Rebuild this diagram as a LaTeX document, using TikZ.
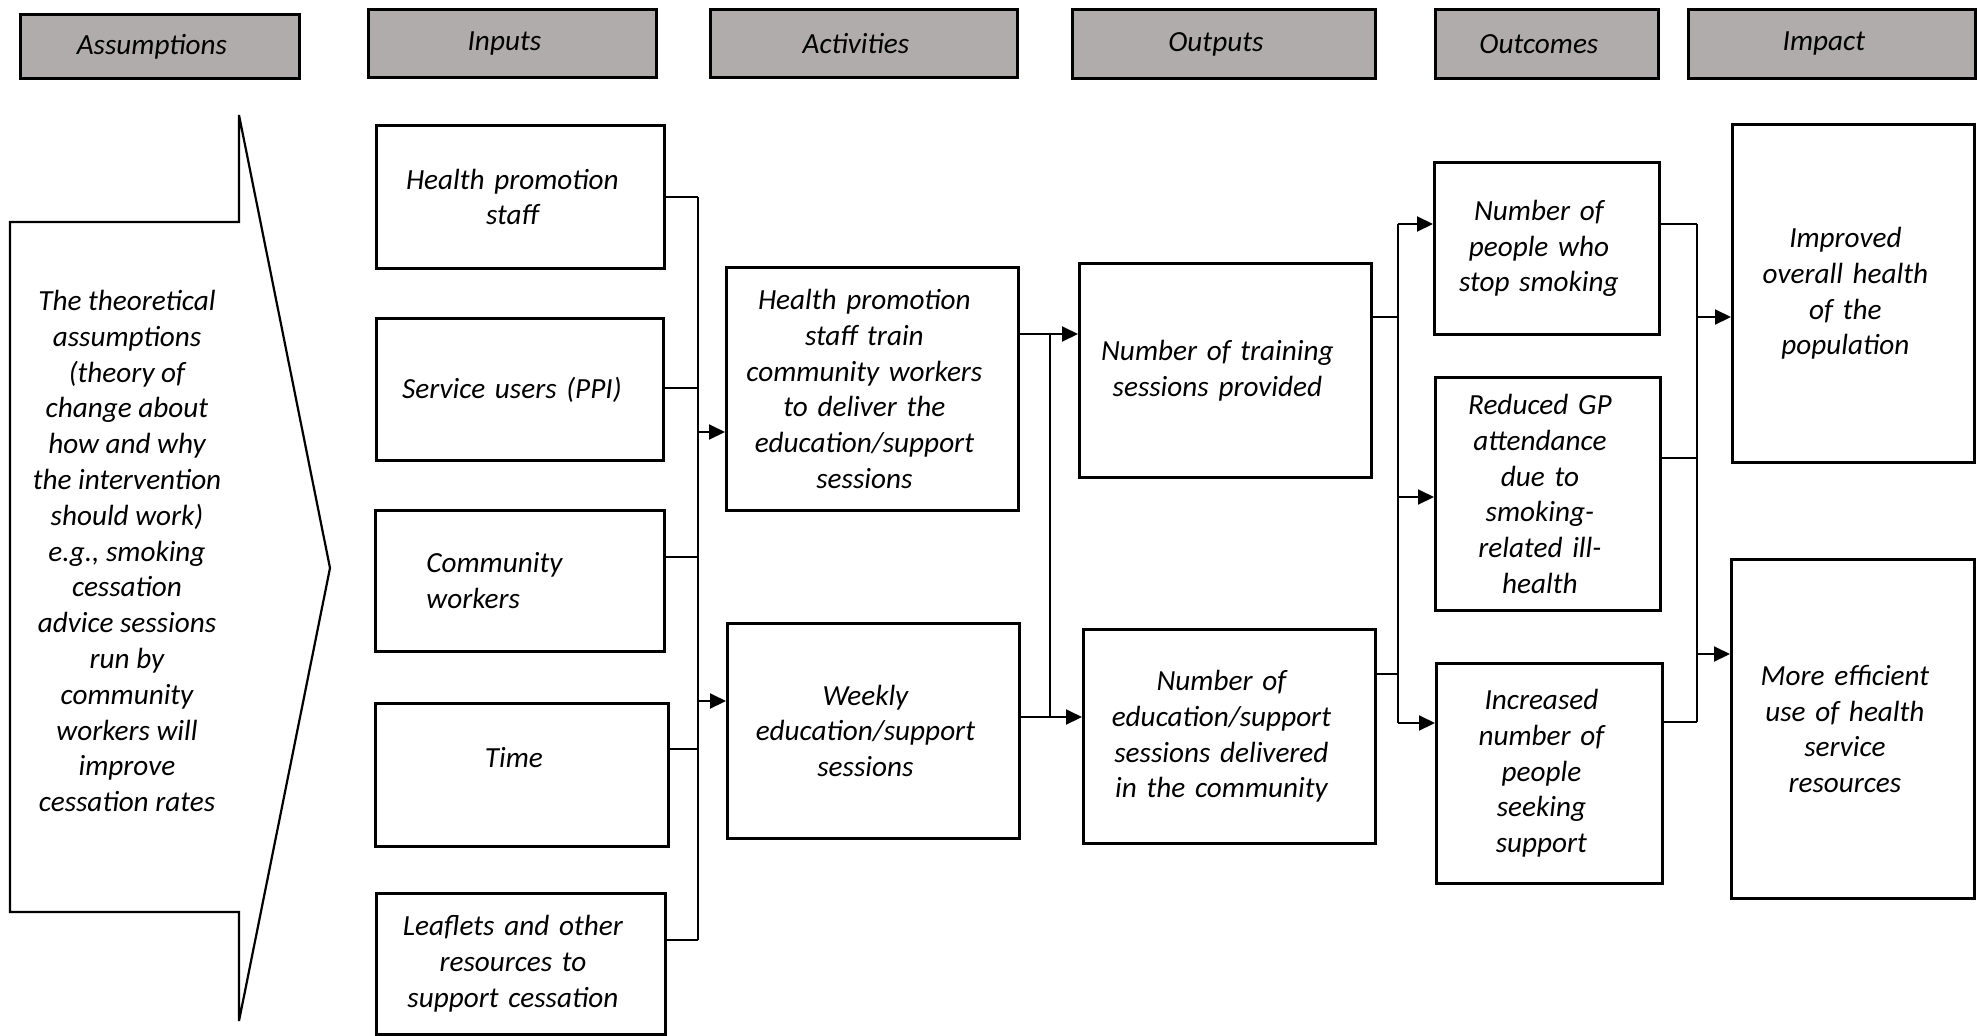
\documentclass[tikz,border=0pt]{standalone}
\usepackage{fontspec}
\setmainfont{Carlito}
\usepackage{tikz}
\usetikzlibrary{arrows.meta, positioning, calc}
\definecolor{headgray}{RGB}{175,172,171}
\newcommand{\boxfont}{\fontsize{14.6}{17.9}\selectfont\itshape}

\begin{document}
\begin{tikzpicture}[x=0.5pt, y=-0.5pt,
  sz/.style 2 args={minimum width=#1*0.5pt, minimum height=#2*0.5pt, text width=#1*0.5pt-4pt},
  box/.style={draw, line width=1.4pt, anchor=north west, inner sep=2pt, align=center, font=\boxfont,
    execute at begin node={\advance\rightskip by 8pt}},
  head/.style={box, fill=headgray},
  link/.style={line width=0.9pt},
  bus/.style={line width=0.7pt},
  arr/.style={line width=1pt, -{Triangle[length=8pt, width=7.5pt]}}]
\useasboundingbox (0,0) rectangle (1977,1035);

% Intestazioni delle colonne
\foreach \n/\x/\y/\w/\h/\t in {hass/19/13/279/64/Assumptions, hin/367/8/288/68/Inputs,
    hact/709/8/307/68/Activities, hout/1071/8/303/69/Outputs,
    hoc/1434/8/223/69/Outcomes, him/1687/8/287/69/Impact}
  \node[head, sz={\w}{\h}] (\n) at (\x,\y) {\t};

% Freccia delle ipotesi
\draw[line width=1.1pt] (10,222) -- (239,222) -- (239,115) -- (330,568) -- (239,1021) -- (239,912) -- (10,912) -- cycle;
\node[font=\boxfont, align=center] (theory) at (127,551) {The theoretical\\assumptions\\(theory of\\change about\\how and why\\the intervention\\should work)\\e.g., smoking\\cessation\\advice sessions\\run by\\community\\workers will\\improve\\cessation rates};

% Inputs
\node[box, sz={288}{143}] (hps) at (375,124) {Health promotion\\staff};
\node[box, sz={287}{142}] (spu) at (375,317) {Service users (PPI)};
\node[box, sz={289}{141}, align=left, inner xsep=25.5pt, text width=93.5pt] (cw) at (374,509) {Community\\workers};
\node[box, sz={293}{143}] (tim) at (374,702) {Time\\~};
\node[box, sz={289}{141}] (lfl) at (375,892) {Leaflets and other\\resources to\\support cessation};

% Activities
\node[box, sz={292}{243}] (act1) at (725,266) {Health promotion\\staff train\\community workers\\to deliver the\\education/support\\sessions};
\node[box, sz={292}{215}] (act2) at (726,622) {Weekly\\education/support\\sessions};

% Outputs
\node[box, sz={292}{214}] (out1) at (1078,262) {Number of training\\sessions provided};
\node[box, sz={292}{214}] (out2) at (1082,628) {Number of\\education/support\\sessions delivered\\in the community};

% Outcomes
\node[box, sz={225}{172}] (oc1) at (1433,161) {Number of\\people who\\stop smoking};
\node[box, sz={225}{233}] (oc2) at (1434,376) {Reduced GP\\attendance\\due to\\smoking-\\related ill-\\health};
\node[box, sz={226}{220}] (oc3) at (1435,662) {Increased\\number of\\people\\seeking\\support};

% Impact
\node[box, sz={242}{338}] (im1) at (1731,123) {Improved\\overall health\\of the\\population};
\node[box, sz={243}{339}] (im2) at (1730,558) {More efficient\\use of health\\service\\resources};

% Collegamenti
\coordinate (inbus) at (698,0);
\coordinate (actbus) at (1050,0);
\coordinate (outbus) at (1398,0);
\coordinate (ocbus) at (1697,0);

\foreach \n/\y in {hps/197, spu/388, cw/557, tim/749, lfl/940}
  \draw[link] (\n.east |- 0,\y) -- (inbus |- 0,\y);
\draw[bus] (inbus |- 0,197) -- (inbus |- 0,940);
\draw[arr] (inbus |- 0,432) -- (act1.west |- 0,432);
\draw[arr] (inbus |- 0,701) -- (act2.west |- 0,701);

\draw[arr] (act1.east |- 0,334) -- (out1.west |- 0,334);
\draw[arr] (act2.east |- 0,717) -- (out2.west |- 0,717);
\draw[link] (actbus |- 0,334) -- (actbus |- 0,717);

\foreach \n/\y in {out1/317, out2/674}
  \draw[link] (\n.east |- 0,\y) -- (outbus |- 0,\y);
\draw[link] (outbus |- 0,224) -- (outbus |- 0,723);
\foreach \n/\y in {oc1/224, oc2/497, oc3/723}
  \draw[arr] (outbus |- 0,\y) -- (\n.west |- 0,\y);

\foreach \n/\y in {oc1/224, oc2/458, oc3/722}
  \draw[link] (\n.east |- 0,\y) -- (ocbus |- 0,\y);
\draw[link] (ocbus |- 0,224) -- (ocbus |- 0,722);
\foreach \n/\y in {im1/317, im2/654}
  \draw[arr] (ocbus |- 0,\y) -- (\n.west |- 0,\y);
\end{tikzpicture}
\end{document}
